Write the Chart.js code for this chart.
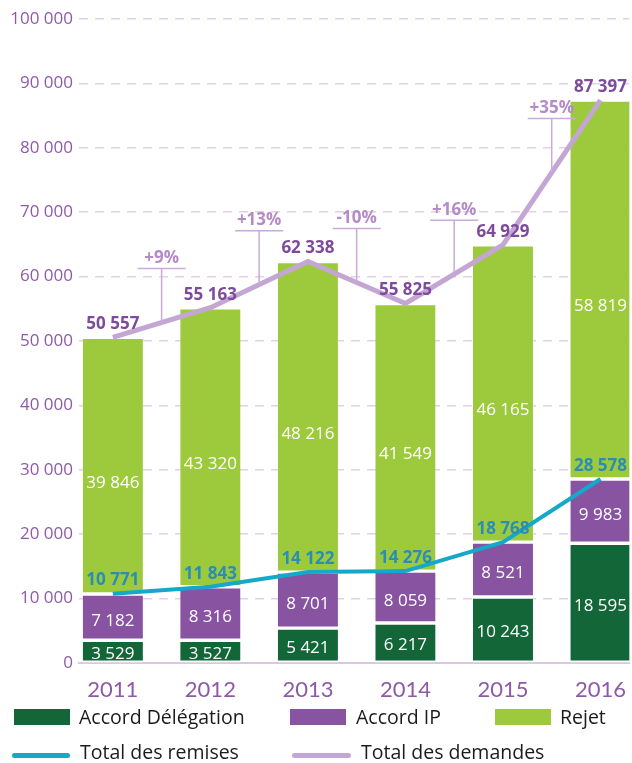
<!DOCTYPE html>
<html>
<head>
<meta charset="utf-8">
<script src="https://cdn.jsdelivr.net/npm/chart.js@4.4.1/dist/chart.umd.min.js"></script>
<style>
  body { margin: 0; background: #fff; }
  #wrap { position: relative; width: 632px; height: 763px; overflow: hidden; }
  .lg { position: absolute; font-family: "Open Sans", sans-serif; font-size: 19.5px; color: #1b1b1b; line-height: 24px; white-space: nowrap; }
  .sw { position: absolute; }
</style>
</head>
<body>
<div id="wrap">
  <canvas id="chart" width="632" height="763"></canvas>

  <div class="sw" style="left:14px;top:709px;width:56px;height:16px;background:#126637"></div>
  <div class="lg" style="left:79px;top:705px">Accord Délégation</div>
  <div class="sw" style="left:290px;top:709px;width:56px;height:16px;background:#8853a1"></div>
  <div class="lg" style="left:356px;top:705px">Accord IP</div>
  <div class="sw" style="left:495px;top:709px;width:56px;height:16px;background:#9dca3c"></div>
  <div class="lg" style="left:560px;top:705px">Rejet</div>

  <div class="sw" style="left:12px;top:753px;width:58px;height:5px;border-radius:3px;background:#14a9c9"></div>
  <div class="lg" style="left:80px;top:740px">Total des remises</div>
  <div class="sw" style="left:292px;top:753px;width:59px;height:5px;border-radius:3px;background:#c4a6d4"></div>
  <div class="lg" style="left:361px;top:740px">Total des demandes</div>
</div>

<script>
// Data
const years = ['2011', '2012', '2013', '2014', '2015', '2016'];
const accordDelegation = [3529, 3527, 5421, 6217, 10243, 18595];
const accordIP = [7182, 8316, 8701, 8059, 8521, 9983];
const rejet = [39846, 43320, 48216, 41549, 46165, 58819];
const totalRemises = [10771, 11843, 14122, 14276, 18768, 28578];
const totalDemandes = [50557, 55163, 62338, 55825, 64929, 87397];
const growth = ['+9%', '+13%', '-10%', '+16%', '+35%'];
const yTicks = [0, 10000, 20000, 30000, 40000, 50000, 60000, 70000, 80000, 90000, 100000];

// French style thousands: "50 557"
function fmt(v) {
    return String(v).replace(/\B(?=(\d{3})+(?!\d))/g, ' ');
}

function points(arr) {
    return arr.map((v, i) => ({ x: i, y: v }));
}

// value labels + growth markers
const labelPlugin = {
    id: 'valueLabels',
    afterDatasetsDraw(chart) {
        const ctx = chart.ctx;
        ctx.save();
        ctx.textAlign = 'center';
        ctx.textBaseline = 'middle';

        chart.data.datasets.forEach((ds, di) => {
            const meta = chart.getDatasetMeta(di);
            meta.data.forEach((el, i) => {
                const v = ds.data[i].y;
                if (ds.type === 'line') {
                    ctx.font = 'bold 17px "Open Sans"';
                    ctx.fillStyle = ds.labelColor;
                    ctx.fillText(fmt(v), el.x, el.y - 13);
                } else {
                    ctx.font = '17px "Open Sans"';
                    ctx.fillStyle = '#ffffff';
                    ctx.fillText(fmt(v), el.x, (el.y + el.base) / 2 + ds.labelShift);
                }
            });
        });

        const xs = chart.scales.x;
        const ys = chart.scales.y;
        growth.forEach((g, i) => {
            const xm = xs.getPixelForValue(i + 0.5);
            const ym = ys.getPixelForValue((totalDemandes[i] + totalDemandes[i + 1]) / 2);
            const top = ym - 54;
            ctx.strokeStyle = '#c9aad8';
            ctx.lineWidth = 1.5;
            ctx.beginPath();
            ctx.moveTo(xm, ym);
            ctx.lineTo(xm, top);
            ctx.moveTo(xm - 24, top);
            ctx.lineTo(xm + 24, top);
            ctx.stroke();
            ctx.font = 'bold 17px "Open Sans"';
            ctx.fillStyle = '#b48bc7';
            ctx.fillText(g, xm, top - 10);
        });
        ctx.restore();
    }
};

const ctx = document.getElementById('chart').getContext('2d');
new Chart(ctx, {
    type: 'bar',
    data: {
        datasets: [{
            type: 'line',
            label: 'Total des remises',
            data: points(totalRemises),
            stack: 'remises',
            borderColor: '#14a9c9',
            borderWidth: 4,
            pointRadius: 0,
            tension: 0,
            labelColor: '#2a8db4',
            order: 0
        }, {
            type: 'line',
            label: 'Total des demandes',
            data: points(totalDemandes),
            stack: 'demandes',
            borderColor: '#c4a6d4',
            borderWidth: 5,
            pointRadius: 0,
            tension: 0,
            labelColor: '#7e4a9c',
            order: 0
        }, {
            label: 'Accord Délégation',
            data: points(accordDelegation),
            backgroundColor: '#126637',
            labelShift: 3,
            order: 1
        }, {
            label: 'Accord IP',
            data: points(accordIP),
            backgroundColor: '#8853a1',
            labelShift: 4,
            order: 1
        }, {
            label: 'Rejet',
            data: points(rejet),
            backgroundColor: '#9dca3c',
            labelShift: 17,
            order: 1
        }]
    },
    options: {
        responsive: false,
        animation: false,
        devicePixelRatio: 1,
        layout: { padding: { top: 19, right: 0, bottom: 60, left: 0 } },
        datasets: {
            bar: {
                barThickness: 60,
                borderColor: '#ffffff',
                borderWidth: { top: 2, bottom: 2, left: 0, right: 0 },
                borderSkipped: false,
                stack: 'bars'
            }
        },
        plugins: {
            legend: { display: false },
            tooltip: { enabled: false }
        },
        scales: {
            x: {
                type: 'linear',
                offset: false,
                min: -0.347,
                max: 5.296,
                stacked: true,
                afterFit: s => { s.height = 40; },
                afterBuildTicks: s => { s.ticks = years.map((_, i) => ({ value: i })); },
                grid: { display: false, offset: false },
                border: { display: true, color: '#d9c8e3', width: 2, dash: [] },
                ticks: {
                    autoSkip: false,
                    maxRotation: 0,
                    padding: 6,
                    color: '#8e5aa8',
                    font: { family: 'Lato', size: 22 },
                    callback: v => years[v]
                }
            },
            y: {
                min: 0,
                max: 100000,
                stacked: true,
                afterFit: s => { s.width = 79; },
                afterBuildTicks: s => { s.ticks = yTicks.map(v => ({ value: v })); },
                grid: {
                    drawTicks: false,
                    lineWidth: 1.5,
                    color: c => c.tick && c.tick.value === 0 ? 'rgba(0,0,0,0)' : '#e0d0ea'
                },
                border: { display: false, dash: [9, 7] },
                ticks: {
                    padding: 6,
                    color: '#8e5aa8',
                    font: { family: 'Open Sans', size: 17 },
                    callback: v => fmt(v)
                }
            }
        }
    },
    plugins: [labelPlugin]
});
</script>
</body>
</html>
